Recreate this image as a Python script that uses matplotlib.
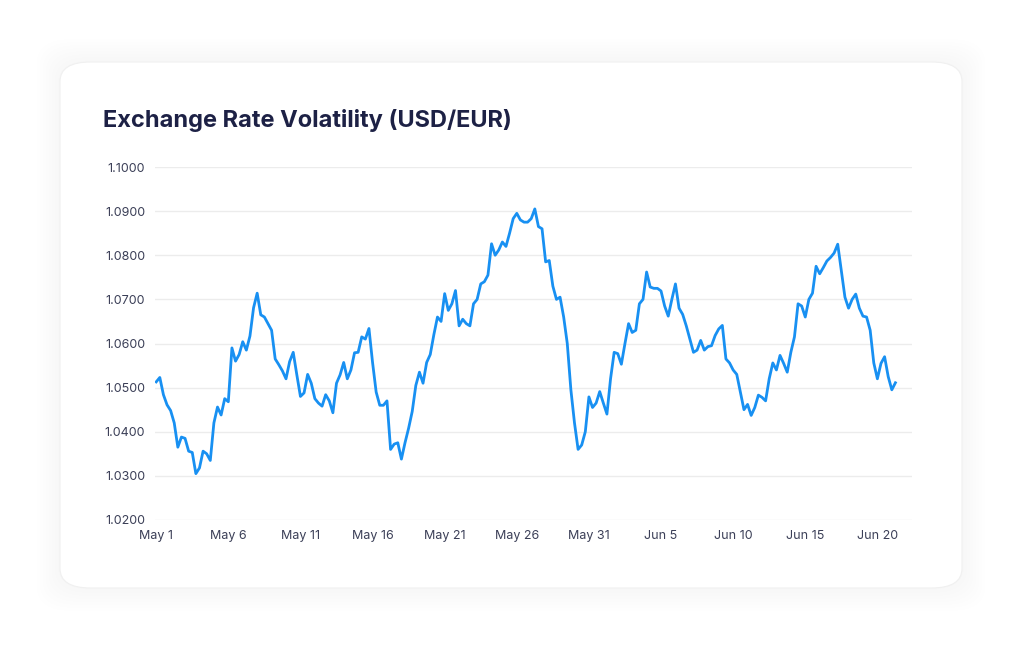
import numpy as np
import pandas as pd
import matplotlib
matplotlib.use("Agg")
import matplotlib.pyplot as plt
from matplotlib.patches import FancyBboxPatch

# USD/EUR rate, every 6 hours from May 1
rate = [
    1.0513, 1.0523, 1.0484, 1.0461, 1.0448, 1.0420, 1.0365, 1.0388, 1.0385, 1.0356,
    1.0353, 1.0305, 1.0318, 1.0356, 1.0350, 1.0335, 1.0420, 1.0456, 1.0438, 1.0475,
    1.0468, 1.0590, 1.0560, 1.0575, 1.0604, 1.0585, 1.0617, 1.0681, 1.0714, 1.0665,
    1.0660, 1.0645, 1.0630, 1.0565,
    1.0552, 1.0538, 1.0520, 1.0559, 1.0580, 1.0529, 1.0480, 1.0488, 1.0530, 1.0510,
    1.0475, 1.0465, 1.0458, 1.0484, 1.0470, 1.0443, 1.0510, 1.0529, 1.0557, 1.0520,
    1.0540, 1.0579, 1.0580, 1.0615, 1.0610, 1.0634, 1.0557, 1.0490, 1.0460, 1.0460,
    1.0470, 1.0360, 1.0372, 1.0375, 1.0338,
    1.0375, 1.0408, 1.0446, 1.0505, 1.0535, 1.0510, 1.0557, 1.0575, 1.0620, 1.0660,
    1.0650, 1.0713, 1.0675, 1.0690, 1.0720, 1.0640, 1.0655, 1.0645, 1.0640, 1.0690,
    1.0700, 1.0735, 1.0740, 1.0755, 1.0826, 1.0800, 1.0812, 1.0830, 1.0820, 1.0850,
    1.0883, 1.0895, 1.0880, 1.0875,
    1.0875, 1.0883, 1.0905, 1.0865, 1.0860, 1.0785, 1.0788, 1.0730, 1.0700, 1.0705,
    1.0660, 1.0600, 1.0495, 1.0420, 1.0360, 1.0370, 1.0400, 1.0479, 1.0455, 1.0465,
    1.0491, 1.0465, 1.0440, 1.0520, 1.0580, 1.0577, 1.0553, 1.0600, 1.0645, 1.0625,
    1.0630, 1.0690, 1.0700, 1.0762, 1.0728,
    1.0725, 1.0725, 1.0719, 1.0685, 1.0662, 1.0700, 1.0735, 1.0680, 1.0666, 1.0640,
    1.0610, 1.0580, 1.0585, 1.0607, 1.0585, 1.0593, 1.0595, 1.0618, 1.0633, 1.0641,
    1.0565, 1.0556, 1.0540, 1.0530, 1.0490, 1.0450, 1.0462, 1.0437, 1.0455, 1.0483,
    1.0478, 1.0470, 1.0520, 1.0556, 1.0540,
    1.0573, 1.0555, 1.0535, 1.0580, 1.0615, 1.0690, 1.0685, 1.0660, 1.0700, 1.0714,
    1.0775, 1.0758, 1.0772, 1.0787, 1.0795, 1.0805, 1.0825, 1.0765, 1.0705, 1.0680,
    1.0700, 1.0712, 1.0680, 1.0662, 1.0660, 1.0630, 1.0556, 1.0520, 1.0555, 1.0570,
    1.0525, 1.0495, 1.0511,
]
dates = pd.date_range("2024-05-01", periods=len(rate), freq="6h")

tick_dates = pd.date_range("2024-05-01", periods=11, freq="5D")
tick_labels = ["May 1", "May 6", "May 11", "May 16", "May 21", "May 26",
               "May 31", "Jun 5", "Jun 10", "Jun 15", "Jun 20"]
y_ticks = [1.02, 1.03, 1.04, 1.05, 1.06, 1.07, 1.08, 1.09, 1.10]

plt.rcParams["font.family"] = ["Inter", "DejaVu Sans"]

fig = plt.figure(figsize=(10.24, 6.51), dpi=100)
fig.patch.set_facecolor("white")

# card with a very soft shadow
W, H = 1024, 651
x0, y0, x1, y1 = 60, 62, 962, 588
for i in range(8):
    g = 2 + i * 3
    sh = FancyBboxPatch(((x0 - g) / W, (H - y1 - g) / H),
                        (x1 - x0 + 2 * g) / W, (y1 - y0 + 2 * g) / H,
                        boxstyle="round,pad=0,rounding_size=0.035",
                        transform=fig.transFigure, facecolor="#000000",
                        edgecolor="none", alpha=0.005, zorder=0)
    fig.patches.append(sh)
card = FancyBboxPatch((x0 / W, (H - y1) / H), (x1 - x0) / W, (y1 - y0) / H,
                      boxstyle="round,pad=0,rounding_size=0.03",
                      transform=fig.transFigure, facecolor="white",
                      edgecolor="#f0f0f0", linewidth=0.8, zorder=1)
fig.patches.append(card)

fig.text(103 / W, 1 - 120 / H, "Exchange Rate Volatility (USD/EUR)",
         fontsize=17, fontweight="bold", color="#1d2145", va="center", ha="left")

ax = fig.add_axes([155 / W, 1 - 520 / H, (912 - 155) / W, (520 - 167) / H])
ax.set_zorder(5)
ax.set_facecolor("none")
ax.plot(dates, rate, color="#1890f2", linewidth=2, zorder=3)

ax.set_ylim(1.02, 1.10)
ax.set_yticks(y_ticks)
ax.set_yticklabels([f"{v:.4f}" for v in y_ticks])
ax.set_xlim(dates[0] - pd.Timedelta(hours=2), dates[0] + pd.Timedelta(days=52.4))
ax.set_xticks(tick_dates)
ax.set_xticklabels(tick_labels)

ax.grid(axis="y", color="#ececec", linewidth=1)
ax.grid(axis="x", visible=False)
for s in ax.spines.values():
    s.set_visible(False)
ax.tick_params(axis="both", length=0, labelsize=9, colors="#3b3f57")
ax.tick_params(axis="y", pad=7)
ax.tick_params(axis="x", pad=7)

fig.savefig("out.png", dpi=100)
